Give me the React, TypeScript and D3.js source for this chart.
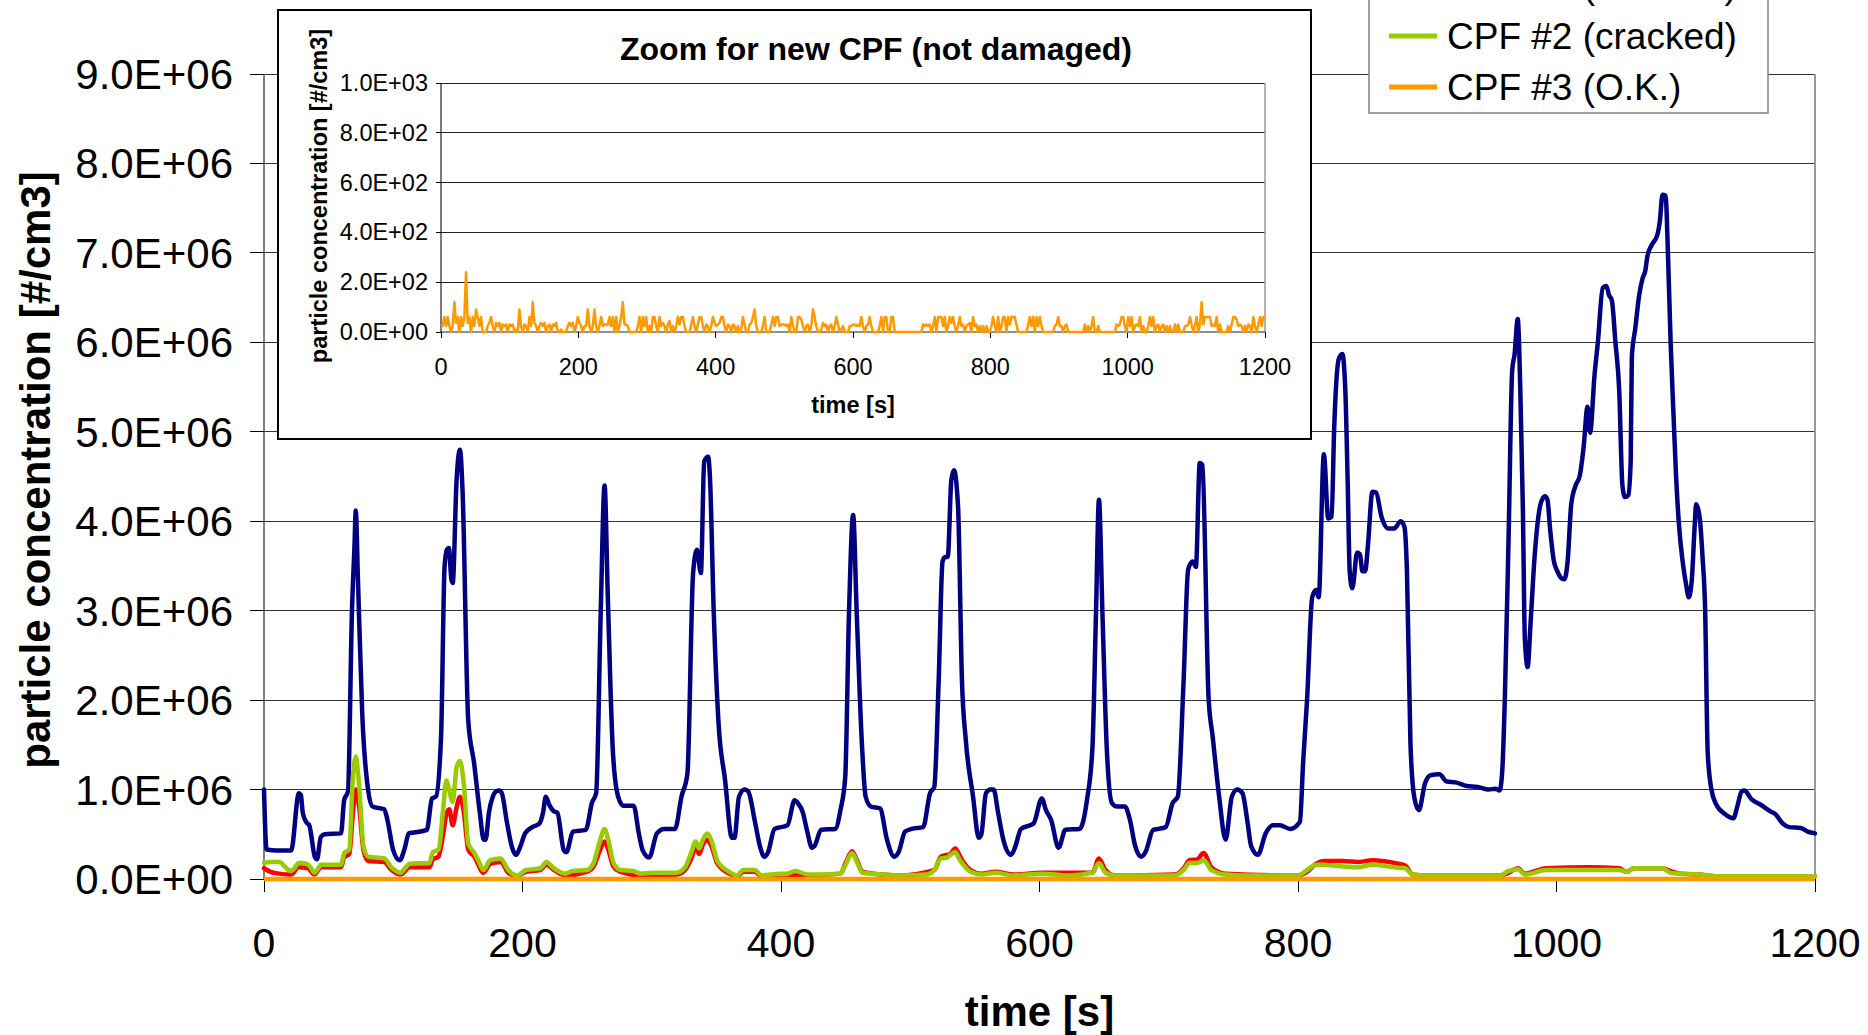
import React from 'react';
import * as d3 from 'd3';

const FONT = '"Liberation Sans", Arial, Helvetica, sans-serif';

// ---------- axis ticks ----------
const xTicks = [0, 200, 400, 600, 800, 1000, 1200];
const yTicks = [0, 1e6, 2e6, 3e6, 4e6, 5e6, 6e6, 7e6, 8e6, 9e6];
const yTickLabels = ['0.0E+00', '1.0E+06', '2.0E+06', '3.0E+06', '4.0E+06', '5.0E+06', '6.0E+06', '7.0E+06', '8.0E+06', '9.0E+06'];
const insetYTicks = [0, 200, 400, 600, 800, 1000];
const insetYTickLabels = ['0.0E+00', '2.0E+02', '4.0E+02', '6.0E+02', '8.0E+02', '1.0E+03'];

// ---------- series ----------
const seriesNames = ['without CPF', 'CPF #1 (cracked)', 'CPF #2 (cracked)', 'CPF #3 (O.K.)'];
const seriesColors = ['#000080', '#FF0000', '#99CC00', '#FF9900'];

const MILLION = 1e6;

// navy series: [time s, concentration in millions #/cm3]
const navySeries: [number, number][] = [
  [0, 1.0], [2, 0.33], [10, 0.32], [21, 0.32], [27, 0.96], [28.5, 0.94], [30, 0.74], [33, 0.63], [35, 0.6],
  [39.5, 0.24], [41, 0.22], [44, 0.47], [47, 0.5], [59.6, 0.51], [62, 0.88], [65, 0.98], [68, 2.97], [70, 3.72],
  [71, 4.12], [72.7, 3.34], [76, 1.85], [80.6, 0.99], [84, 0.81], [93, 0.78], [95.5, 0.66], [100, 0.32],
  [105, 0.21], [109, 0.35], [112, 0.51], [116, 0.52], [126, 0.55], [130, 0.9], [133, 0.92], [137, 1.59],
  [139.7, 3.49], [141.5, 3.68], [143, 3.7], [145, 3.35], [146, 3.31], [149, 4.46], [151.6, 4.8], [153.6, 4.35],
  [158, 1.78], [162.6, 1.29], [167, 0.74], [170, 0.44], [171.5, 0.44], [174, 0.74], [177, 0.92], [179.6, 0.98],
  [182, 0.99], [184, 0.96], [188, 0.63], [192, 0.35], [195, 0.27], [198, 0.35], [202, 0.51], [207.5, 0.58],
  [213, 0.62], [216, 0.75], [218, 0.92], [221, 0.82], [224, 0.76], [227, 0.74], [232, 0.32], [234, 0.3],
  [239, 0.53], [249, 0.55], [253.7, 0.85], [257, 0.96], [260.5, 2.97], [263.5, 4.4], [266, 3.16], [270, 1.41],
  [274, 0.92], [278, 0.82], [286, 0.82], [290, 0.51], [293, 0.32], [298, 0.24], [304, 0.51], [309.6, 0.56],
  [318, 0.56], [323, 0.92], [327.6, 1.18], [332, 3.42], [335, 3.68], [338, 3.42], [340.6, 4.67], [343.6, 4.72],
  [345, 4.5], [348, 2.97], [351.7, 1.74], [356.7, 1.11], [362, 0.46], [364, 0.46], [367.5, 0.92], [371.8, 1.0],
  [374.6, 0.98], [380, 0.63], [384, 0.35], [387, 0.25], [390, 0.3], [395, 0.56], [405, 0.6], [410.5, 0.88],
  [413, 0.85], [417, 0.74], [420, 0.55], [424, 0.35], [426, 0.37], [431, 0.55], [442, 0.56], [446, 0.77],
  [449.7, 1.14], [452.6, 2.97], [455.8, 4.07], [458.6, 2.97], [462.7, 1.48], [465.5, 0.92], [469.6, 0.81],
  [476.6, 0.79], [482, 0.44], [487.6, 0.25], [491, 0.3], [496, 0.53], [501, 0.56], [510, 0.58], [515.3, 0.96],
  [518.6, 1.03], [522, 2.22], [525, 3.55], [527, 3.6], [529, 3.6], [531.8, 4.46], [533.8, 4.57], [537, 4.16],
  [540, 2.22], [543, 1.55], [548.6, 0.92], [553, 0.46], [555, 0.5], [558.6, 0.96], [562, 1.0], [564.5, 1.0],
  [568, 0.74], [572, 0.44], [578, 0.27], [581, 0.35], [585.7, 0.56], [595.4, 0.62], [601.8, 0.9], [605, 0.77],
  [609, 0.66], [614.8, 0.35], [620, 0.55], [631, 0.56], [636.7, 0.88], [641, 1.48], [643.7, 2.97], [646, 4.24],
  [648.7, 2.97], [652, 1.48], [656, 0.85], [660, 0.81], [666, 0.81], [670, 0.66], [674, 0.37], [678.6, 0.25],
  [682, 0.3], [688, 0.55], [692, 0.56], [697.6, 0.58], [703, 0.85], [707, 0.92], [711.5, 2.22], [715, 3.46],
  [718.5, 3.55], [721, 3.49], [724, 4.65], [726, 4.63], [730.8, 2.03], [734, 1.59], [739, 0.92], [744, 0.44],
  [748.8, 0.92], [753, 1.0], [757, 0.96], [761, 0.63], [763.7, 0.37], [769, 0.27], [775, 0.51], [780.6, 0.6],
  [786, 0.6], [794, 0.56], [801.5, 0.64], [804, 1.31], [807, 2.0], [811, 3.15], [814, 3.23], [816, 3.15],
  [820, 4.75], [823.4, 4.03], [826, 4.05], [828, 5.04], [831.5, 5.81], [834.3, 5.87], [836.6, 5.47],
  [838.5, 4.4], [840, 3.44], [842, 3.25], [845.8, 3.65], [848, 3.63], [849.8, 3.44], [852, 3.44], [854, 3.71],
  [857.6, 4.33], [860.4, 4.32], [864.6, 4.05], [869.7, 3.92], [874.5, 3.92], [879.5, 4.0], [882.3, 3.94],
  [884.3, 3.44], [887, 1.52], [890, 0.91], [893.5, 0.77], [898.3, 1.07], [902.5, 1.16], [909.5, 1.17],
  [915, 1.09], [922, 1.08], [930.6, 1.04], [939, 1.03], [947.4, 1.0], [953, 1.01], [956, 0.99], [958, 1.2],
  [960, 2.0], [963, 3.87], [965.7, 5.68], [967.6, 5.87], [970, 6.26], [972, 5.47], [974, 4.13], [975.5, 2.69],
  [977.7, 2.37], [979.7, 2.8], [982.5, 3.49], [985.3, 3.97], [988, 4.21], [991, 4.28], [993, 4.24], [995, 3.92],
  [998, 3.55], [1000.7, 3.44], [1004, 3.36], [1006, 3.35], [1008.6, 3.55], [1011.4, 4.19], [1014.8, 4.4],
  [1018, 4.51], [1021, 4.83], [1024, 5.28], [1026, 4.99], [1029.4, 5.63], [1032, 6.0], [1035.8, 6.61],
  [1038.6, 6.63], [1040.6, 6.53], [1042.8, 6.47], [1045.6, 6.0], [1048.5, 5.47], [1051, 4.4], [1053, 4.27],
  [1055.5, 4.29], [1057.4, 4.67], [1058.3, 5.84], [1061, 6.16], [1064, 6.53], [1066.7, 6.72], [1068.7, 6.8],
  [1070.3, 6.96], [1073.7, 7.09], [1078, 7.2], [1080, 7.36], [1082, 7.65], [1084.4, 7.64], [1086.3, 6.96],
  [1088.3, 6.0], [1090.5, 5.2], [1092.5, 4.51], [1094.7, 3.97], [1097.6, 3.55], [1100.4, 3.28], [1102.3, 3.15],
  [1104.6, 3.33], [1107, 3.97], [1108, 4.19], [1110.7, 4.05], [1113, 3.6], [1115, 3.01], [1117, 1.41],
  [1120, 0.99], [1123.7, 0.83], [1130, 0.73], [1137, 0.68], [1139.7, 0.8], [1143.3, 0.98], [1145.3, 0.99],
  [1151, 0.89], [1158, 0.83], [1166.3, 0.75], [1169, 0.73], [1175, 0.62], [1180, 0.58], [1189, 0.57],
  [1194.4, 0.53], [1200, 0.51],
];

// red series (millions)
const redSeries: [number, number][] = [
  [0, 0.12], [5, 0.08], [12, 0.06], [19, 0.05], [21, 0.05], [26.7, 0.13], [34, 0.12], [39, 0.05], [44, 0.13],
  [59.6, 0.13], [62, 0.24], [66, 0.28], [68.6, 0.7], [71, 1.0], [73.3, 0.85], [77, 0.32], [80.6, 0.2], [93, 0.19],
  [98.7, 0.1], [105.6, 0.05], [112.6, 0.13], [128, 0.13], [130.6, 0.22], [135, 0.25], [138.6, 0.5], [141, 0.72],
  [143.3, 0.78], [146, 0.6], [149, 0.8], [151.6, 0.92], [154.6, 0.75], [158, 0.33], [162.8, 0.25], [169.8, 0.07],
  [175, 0.17], [183, 0.19], [189, 0.07], [195.8, 0.03], [202.6, 0.08], [213.7, 0.1], [218.7, 0.16], [223.4, 0.11],
  [233, 0.04], [249.6, 0.08], [255, 0.14], [259.4, 0.3], [263.5, 0.42], [266.3, 0.33], [270.4, 0.14], [276, 0.08],
  [291, 0.04], [318.8, 0.05], [325.7, 0.1], [330.4, 0.22], [334, 0.35], [336.7, 0.28], [339.5, 0.38], [343, 0.44],
  [346.4, 0.36], [350.5, 0.18], [360, 0.06], [365.8, 0.03], [371, 0.08], [379.6, 0.08], [385, 0.03], [399, 0.05],
  [421, 0.04], [446, 0.06], [450, 0.18], [455, 0.31], [459, 0.2], [463, 0.08], [490, 0.04], [518.6, 0.1],
  [523.7, 0.25], [528.4, 0.27], [531, 0.28], [534.8, 0.34], [538, 0.27], [541, 0.19], [546.6, 0.1], [555, 0.06],
  [566, 0.08], [580, 0.05], [602, 0.07], [641, 0.07], [646, 0.23], [651, 0.1], [658, 0.04], [705, 0.05],
  [712, 0.13], [716, 0.21], [722, 0.22], [727, 0.29], [733, 0.13], [744, 0.06], [800, 0.04], [807, 0.08],
  [814, 0.17], [820, 0.2], [826.8, 0.2], [835, 0.2], [846, 0.19], [857.6, 0.21], [874.5, 0.18], [883, 0.15],
  [888.5, 0.05], [900, 0.04], [956, 0.04], [963, 0.07], [970, 0.12], [975.5, 0.06], [992, 0.12], [1026, 0.13],
  [1048.5, 0.12], [1054, 0.08], [1060, 0.12], [1082, 0.12], [1088, 0.09], [1096, 0.06], [1110, 0.05],
  [1124, 0.03], [1200, 0.03],
];

// green series (millions)
const greenSeries: [number, number][] = [
  [0, 0.18], [5, 0.19], [12, 0.19], [16, 0.14], [19, 0.1], [21, 0.09], [24, 0.13], [26.7, 0.18], [30, 0.18],
  [34, 0.16], [36, 0.13], [39, 0.07], [42, 0.12], [44, 0.16], [50, 0.16], [59.6, 0.16], [62, 0.29], [66, 0.33],
  [68.6, 1.1], [71, 1.37], [73.3, 1.1], [77, 0.36], [80.6, 0.25], [93, 0.23], [98.7, 0.13], [105.6, 0.07],
  [109, 0.12], [112.6, 0.17], [128, 0.18], [130.6, 0.3], [135, 0.33], [138.6, 0.78], [141, 1.1], [143.3, 0.99],
  [146, 0.86], [149, 1.25], [151.6, 1.32], [154.6, 1.06], [158, 0.4], [162.8, 0.29], [166, 0.2], [169.8, 0.1],
  [175, 0.21], [183, 0.23], [189, 0.1], [195.8, 0.04], [202.6, 0.1], [213.7, 0.12], [218.7, 0.19], [223.4, 0.13],
  [233, 0.06], [238.6, 0.09], [249.6, 0.1], [255, 0.18], [259.4, 0.4], [263.5, 0.56], [266.3, 0.44], [270.4, 0.18],
  [276, 0.1], [285.7, 0.09], [291, 0.06], [299.5, 0.07], [318.8, 0.07], [325.7, 0.13], [330.4, 0.29], [334, 0.42],
  [336.7, 0.34], [339.5, 0.44], [343, 0.51], [346.4, 0.42], [350.5, 0.21], [355, 0.13], [360, 0.08], [365.8, 0.04],
  [371, 0.1], [379.6, 0.1], [385, 0.04], [399, 0.06], [404.6, 0.06], [411, 0.09], [421, 0.05], [446, 0.06],
  [450, 0.16], [455, 0.29], [459, 0.18], [463, 0.07], [471, 0.06], [490, 0.04], [513, 0.05], [518.6, 0.1],
  [523.7, 0.23], [528.4, 0.24], [531, 0.27], [534.8, 0.3], [538, 0.22], [541, 0.16], [546.6, 0.08], [555, 0.05],
  [566, 0.07], [580, 0.04], [602, 0.06], [622, 0.04], [641, 0.07], [646, 0.18], [651, 0.07], [658, 0.04],
  [705, 0.04], [712, 0.11], [716, 0.18], [722, 0.18], [727, 0.21], [733, 0.1], [744, 0.05], [761, 0.04],
  [800, 0.04], [807, 0.1], [814, 0.16], [820, 0.16], [826.8, 0.15], [835, 0.14], [846, 0.13], [857.6, 0.16],
  [874.5, 0.13], [883, 0.12], [888.5, 0.05], [900, 0.04], [956, 0.04], [963, 0.09], [970, 0.11], [975.5, 0.05],
  [992, 0.1], [1026, 0.1], [1048.5, 0.1], [1054, 0.08], [1060, 0.12], [1082, 0.12], [1088, 0.07], [1096, 0.06],
  [1110, 0.05], [1124, 0.03], [1200, 0.03],
];

// orange series (#/cm3), evenly sampled over 0..1200 s
const orangeValues: number[] = [
  24, 24, 60, 24, 60, 24, 0, 24, 120, 37, 60, 0, 60, 24, 60, 240, 37, 60, 0, 60, 24, 90, 60, 24, 60, 0, 0, 0, 24, 37,
  60, 24, 0, 37, 24, 37, 0, 30, 24, 30, 0, 30, 24, 30, 0, 10, 0, 90, 24, 0, 30, 24, 0, 60, 24, 120, 37, 24, 0, 24,
  37, 24, 37, 0, 24, 30, 0, 30, 24, 37, 0, 0, 10, 0, 0, 0, 24, 37, 24, 37, 0, 24, 60, 37, 24, 0, 24, 24, 90, 24,
  0, 24, 90, 24, 0, 24, 60, 24, 30, 30, 30, 60, 24, 60, 0, 60, 0, 24, 60, 120, 30, 30, 24, 0, 0, 0, 0, 0, 24, 60,
  0, 60, 24, 60, 0, 24,
  0, 60, 60, 24, 0, 60, 24, 37, 24, 0, 30, 45, 0, 24, 0, 24, 60, 30, 60, 60, 24, 0, 0, 0, 30, 60, 24, 0, 30, 60,
  60, 24, 0, 30, 24, 0, 24, 60, 37, 24, 30, 37, 60, 60, 24, 0, 30, 24, 0, 30, 24, 0, 24, 0, 10, 60, 30, 0, 0, 30,
  37, 60, 90, 24, 0, 0, 0, 24, 60, 0, 0, 0, 30, 60, 24, 60, 60, 24, 30, 30, 30, 24, 30, 0, 60, 24, 0, 0, 60, 60,
  50, 24, 0, 24, 30, 0, 24, 90, 60, 24, 0, 0, 10, 37, 24, 30, 0, 24, 30, 0, 24, 60, 30, 0, 10, 24, 0, 0, 0, 24,
  24, 30, 30, 24, 30,
  24, 60, 24, 0, 24, 30, 60, 24, 0, 0, 0, 0, 24, 60, 0, 60, 60, 0, 0, 60, 60, 0, 0, 0, 0, 0, 0, 0, 0, 0,
  0, 0, 0, 0, 0, 0, 0, 0, 30, 24, 30, 24, 30, 0, 24, 60, 0, 60, 60, 60, 24, 60, 0, 24, 60, 37, 60, 24, 0, 24,
  60, 24, 30, 0, 24, 30, 37, 0, 60, 24, 30, 0, 24, 0, 24, 0, 24, 0, 0, 24, 60, 24, 0, 60, 0, 24, 60, 60, 0, 60,
  30, 60, 60, 60, 30, 0, 0, 0, 0, 0, 0, 30, 60, 24, 60, 0, 60, 24, 60, 24, 0, 0, 0, 0, 0, 0, 0, 24, 30, 60,
  24, 24, 0, 24, 30, 0,
  0, 0, 0, 0, 0, 0, 0, 0, 0, 30, 0, 24, 0, 24, 60, 0, 0, 24, 0, 0, 0, 0, 0, 0, 0, 0, 0, 0, 30, 24,
  30, 60, 60, 24, 0, 60, 24, 60, 0, 24, 30, 24, 60, 0, 24, 0, 0, 24, 60, 24, 60, 0, 24, 30, 0, 24, 30, 0, 24, 0,
  24, 0, 0, 30, 0, 30, 0, 0, 0, 24, 24, 30, 60, 30, 0, 24, 60, 0, 30, 120, 30, 60, 60, 60, 60, 24, 30, 24, 60, 0,
  30, 0, 0, 0, 0, 24, 0, 30, 60, 60, 50, 24, 30, 24, 0, 24, 0, 30, 24, 0, 60, 24, 0, 30, 60, 24, 60, 60,
];

// ---------- layout ----------
const W = 1868;
const H = 1035;

const main = { left: 264, right: 1815, top: 74, bottom: 879 };
const inset = { boxX: 278, boxY: 10, boxW: 1033, boxH: 429, left: 441, right: 1265, top: 83, bottom: 332 };
const legend = { x: 1369, y: -60, w: 399, h: 173, lineX1: 1389, lineX2: 1437, textX: 1447, baselines: [-53, -2, 49, 100] };

export default function App() {
  const x = d3.scaleLinear().domain([0, 1200]).range([main.left, main.right]);
  const y = d3.scaleLinear().domain([0, 9e6]).range([main.bottom, main.top]);
  const xi = d3.scaleLinear().domain([0, 1200]).range([inset.left, inset.right]);
  const yi = d3.scaleLinear().domain([0, 1000]).range([inset.bottom, inset.top]);

  const smoothLine = d3
    .line<[number, number]>()
    .x((d) => x(d[0]))
    .y((d) => y(d[1] * MILLION))
    .curve(d3.curveMonotoneX);

  const orangePts: [number, number][] = orangeValues.map((v, i) => [(i * 1200) / (orangeValues.length - 1), v]);
  const orangeMain = d3
    .line<[number, number]>()
    .x((d) => x(d[0]))
    .y((d) => y(d[1]));
  const orangeInset = d3
    .line<[number, number]>()
    .x((d) => xi(d[0]))
    .y((d) => yi(d[1]));

  const mainSeries = [navySeries, redSeries, greenSeries];

  return (
    <svg
      width={W}
      height={H}
      viewBox={`0 0 ${W} ${H}`}
      style={{ position: 'absolute', left: 0, top: 0, display: 'block', background: '#fff' }}
      fontFamily={FONT}
    >
      <rect x={0} y={0} width={W} height={H} fill="#fff" />

      {/* main gridlines */}
      {yTicks.slice(1).map((t) => (
        <line key={`g${t}`} x1={main.left} x2={main.right} y1={y(t)} y2={y(t)} stroke="#333" strokeWidth={1} shapeRendering="crispEdges" />
      ))}
      {/* right border */}
      <line x1={main.right} x2={main.right} y1={main.top} y2={main.bottom} stroke="#999" strokeWidth={2} />
      {/* left axis */}
      <line x1={main.left} x2={main.left} y1={main.top} y2={main.bottom} stroke="#555" strokeWidth={1.5} />
      {yTicks.map((t) => (
        <line key={`yt${t}`} x1={main.left - 14} x2={main.left} y1={y(t)} y2={y(t)} stroke="#000" strokeWidth={1} shapeRendering="crispEdges" />
      ))}
      {/* bottom axis */}
      <line x1={main.left} x2={main.right} y1={main.bottom} y2={main.bottom} stroke="#555" strokeWidth={1.5} />
      {xTicks.map((t) => (
        <line key={`xt${t}`} x1={x(t)} x2={x(t)} y1={main.bottom} y2={main.bottom + 13} stroke="#000" strokeWidth={1} shapeRendering="crispEdges" />
      ))}

      {/* y tick labels */}
      {yTicks.map((t, i) => (
        <text key={`yl${t}`} x={233} y={y(t) + 15} textAnchor="end" fontSize={42} fill="#000">
          {yTickLabels[i]}
        </text>
      ))}
      {/* x tick labels */}
      {xTicks.map((t) => (
        <text key={`xl${t}`} x={x(t)} y={957} textAnchor="middle" fontSize={41} fill="#000">
          {String(t)}
        </text>
      ))}
      {/* axis titles */}
      <text x={(main.left + main.right) / 2} y={1026} textAnchor="middle" fontSize={42} fontWeight="bold" fill="#000">
        time [s]
      </text>
      <text transform={`translate(50, 470) rotate(-90)`} textAnchor="middle" fontSize={42} fontWeight="bold" fill="#000">
        particle concentration [#/cm3]
      </text>

      {/* main series */}
      {mainSeries.map((s, i) => (
        <path key={`s${i}`} d={smoothLine(s) || ''} fill="none" stroke={seriesColors[i]} strokeWidth={4.5} strokeLinejoin="round" strokeLinecap="round" />
      ))}
      <path d={orangeMain(orangePts) || ''} fill="none" stroke={seriesColors[3]} strokeWidth={4.5} strokeLinejoin="round" />

      {/* ---------- inset ---------- */}
      <rect x={inset.boxX} y={inset.boxY} width={inset.boxW} height={inset.boxH} fill="#fff" stroke="#000" strokeWidth={2} />
      <text x={876} y={60} textAnchor="middle" fontSize={32} fontWeight="bold" fill="#000">
        Zoom for new CPF (not damaged)
      </text>
      {insetYTicks.slice(1).map((t) => (
        <line key={`ig${t}`} x1={inset.left} x2={inset.right} y1={yi(t)} y2={yi(t)} stroke="#222" strokeWidth={1} shapeRendering="crispEdges" />
      ))}
      <line x1={inset.right} x2={inset.right} y1={inset.top} y2={inset.bottom} stroke="#999" strokeWidth={1.5} />
      <line x1={inset.left} x2={inset.left} y1={inset.top} y2={inset.bottom} stroke="#222" strokeWidth={1.2} />
      <line x1={inset.left} x2={inset.right} y1={inset.bottom} y2={inset.bottom} stroke="#222" strokeWidth={1.2} />
      {insetYTicks.map((t) => (
        <line key={`iyt${t}`} x1={inset.left - 5} x2={inset.left} y1={yi(t)} y2={yi(t)} stroke="#000" strokeWidth={1} shapeRendering="crispEdges" />
      ))}
      {xTicks.map((t) => (
        <line key={`ixt${t}`} x1={xi(t)} x2={xi(t)} y1={inset.bottom} y2={inset.bottom + 6} stroke="#000" strokeWidth={1} shapeRendering="crispEdges" />
      ))}
      {insetYTicks.map((t, i) => (
        <text key={`iyl${t}`} x={428} y={yi(t) + 8} textAnchor="end" fontSize={23.5} fill="#000">
          {insetYTickLabels[i]}
        </text>
      ))}
      {xTicks.map((t) => (
        <text key={`ixl${t}`} x={xi(t)} y={375} textAnchor="middle" fontSize={23.5} fill="#000">
          {String(t)}
        </text>
      ))}
      <text x={(inset.left + inset.right) / 2} y={413} textAnchor="middle" fontSize={23.5} fontWeight="bold" fill="#000">
        time [s]
      </text>
      <text transform={`translate(327, 196) rotate(-90)`} textAnchor="middle" fontSize={23.5} fontWeight="bold" fill="#000">
        particle concentration [#/cm3]
      </text>
      <path d={orangeInset(orangePts) || ''} fill="none" stroke={seriesColors[3]} strokeWidth={2.5} strokeLinejoin="round" />

      {/* ---------- legend ---------- */}
      <rect x={legend.x} y={legend.y} width={legend.w} height={legend.h} fill="#fff" stroke="#808080" strokeWidth={1.5} />
      {seriesNames.map((name, i) => (
        <g key={`lg${i}`}>
          <line
            x1={legend.lineX1}
            x2={legend.lineX2}
            y1={legend.baselines[i] - 13}
            y2={legend.baselines[i] - 13}
            stroke={seriesColors[i]}
            strokeWidth={5}
          />
          <text x={legend.textX} y={legend.baselines[i]} fontSize={37} fill="#000">
            {name}
          </text>
        </g>
      ))}
    </svg>
  );
}
